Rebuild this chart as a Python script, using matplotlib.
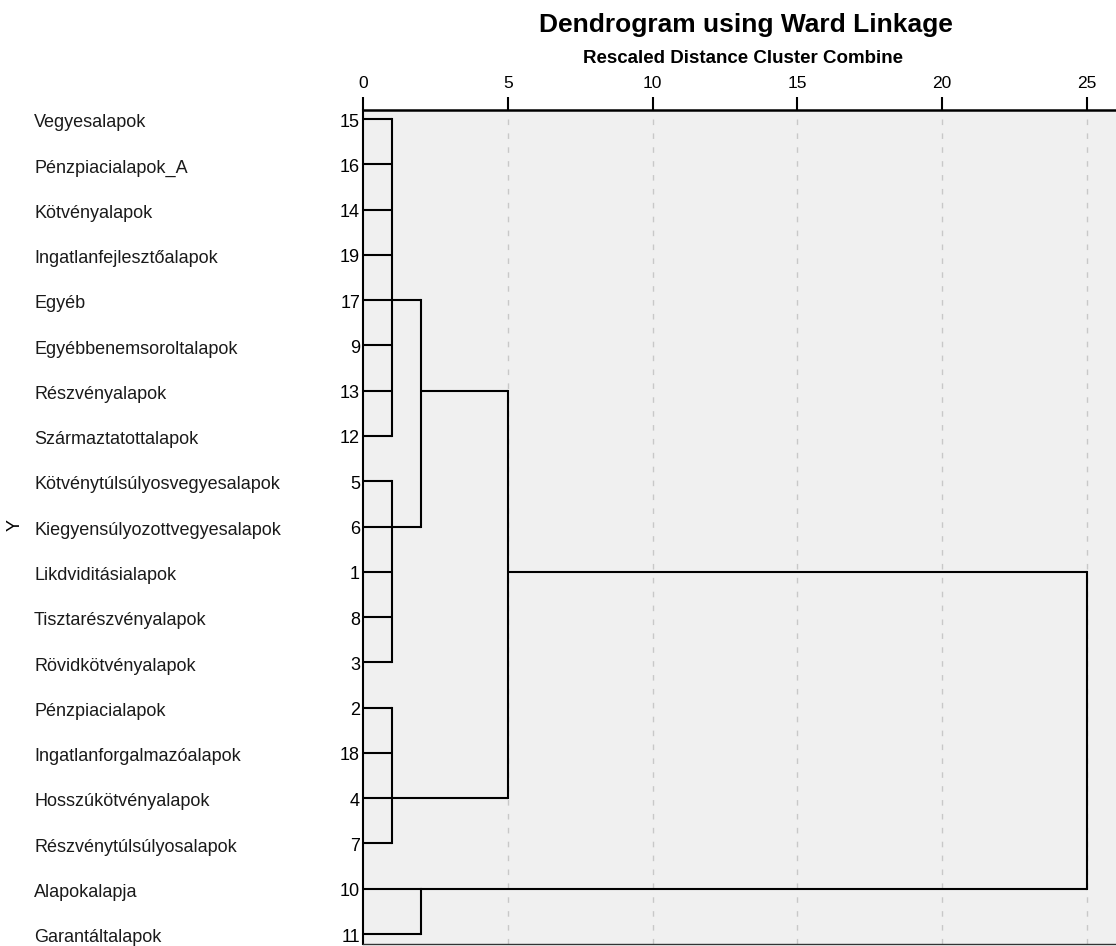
import matplotlib
matplotlib.use("Agg")
import matplotlib.pyplot as plt
import matplotlib.transforms as mtransforms

plt.rcParams['font.family'] = ['Liberation Sans', 'DejaVu Sans']

# ---- data ----
leaf_labels = ["Vegyesalapok", "Pénzpiacialapok_A", "Kötvényalapok", "Ingatlanfejlesztőalapok",
               "Egyéb", "Egyébbenemsoroltalapok", "Részvényalapok", "Származtatottalapok",
               "Kötvénytúlsúlyosvegyesalapok", "Kiegyensúlyozottvegyesalapok", "Likdviditásialapok",
               "Tisztarészvényalapok", "Rövidkötvényalapok", "Pénzpiacialapok",
               "Ingatlanforgalmazóalapok", "Hosszúkötvényalapok", "Részvénytúlsúlyosalapok",
               "Alapokalapja", "Garantáltalapok"]
leaf_ids = [15, 16, 14, 19, 17, 9, 13, 12, 5, 6, 1, 8, 3, 2, 18, 4, 7, 10, 11]

cluster_names = ["A", "B", "C", "D", "AB", "ABC", "ROOT"]
cluster_children = [[15, 16, 14, 19, 17, 9, 13, 12],
                    [5, 6, 1, 8, 3],
                    [2, 18, 4, 7],
                    [10, 11],
                    ["A", "B"],
                    ["AB", "C"],
                    ["ABC", "D"]]
cluster_heights = [1, 1, 1, 2, 2, 5, 25]
cluster_anchor_leaf = [17, 6, 4, 10, 13, 1, None]

x_ticks = [0, 5, 10, 15, 20, 25]

# ---- figure ----
W, H = 1116, 946
fig = plt.figure(figsize=(W / 100, H / 100), dpi=100)
left, right, top, bottom = 363, 1116, 110, 944
ax = fig.add_axes([left / W, 1 - bottom / H, (right - left) / W, (bottom - top) / H])
ax.set_facecolor("#f0f0f0")
ax.set_xlim(0, 26)
ax.set_ylim(18.22, -0.2)

# grid
for t in x_ticks[1:]:
    ax.axvline(t, color="#c8c8c8", lw=1.0, linestyle=(0, (4, 6)), zorder=1)

row_of = {lid: i for i, lid in enumerate(leaf_ids)}
info = {}
for name, kids, h, anc in zip(cluster_names, cluster_children, cluster_heights, cluster_anchor_leaf):
    rows = []
    for k in kids:
        if isinstance(k, str):
            r, kh = info[k]
        else:
            r, kh = row_of[k], 0
        ax.plot([kh, h], [r, r], color="black", lw=1.5, solid_capstyle="butt", zorder=3)
        rows.append(r)
    ax.plot([h, h], [min(rows), max(rows)], color="black", lw=1.5, solid_capstyle="projecting", zorder=3)
    info[name] = (row_of[anc] if anc is not None else None, h)

# axes styling
ax.spines["right"].set_visible(False)
ax.spines["top"].set_linewidth(1.8)
ax.spines["left"].set_linewidth(1.5)
ax.spines["bottom"].set_linewidth(1.0)
ax.spines["bottom"].set_color("#333333")
ax.xaxis.tick_top()
ax.set_xticks(x_ticks)
ax.set_xticklabels([str(t) for t in x_ticks], fontsize=12.5)
ax.tick_params(axis="x", direction="out", length=9.5, width=1.5, pad=4.3, color="black")
ax.set_yticks([])

# leaf labels and numbers
trans = mtransforms.blended_transform_factory(fig.transFigure, ax.transData)
for i, (lab, lid) in enumerate(zip(leaf_labels, leaf_ids)):
    ax.text(34 / W, i + 0.18, lab, transform=trans, ha="left", va="baseline",
            fontsize=13, color="#1a1a1a", clip_on=False)
    ax.text(360 / W, i + 0.165, str(lid), transform=trans, ha="right", va="baseline",
            fontsize=13, color="black", clip_on=False)

fig.text(15 / W, 1 - 525 / H, "Y", rotation=90, ha="center", va="center", fontsize=13)

fig.text(746 / W, 1 - 32 / H, "Dendrogram using Ward Linkage", ha="center", va="baseline",
         fontsize=19, fontweight="bold")
fig.text(743 / W, 1 - 63 / H, "Rescaled Distance Cluster Combine", ha="center", va="baseline",
         fontsize=13.5, fontweight="bold")

fig.savefig("out.png", dpi=100, facecolor="white")
